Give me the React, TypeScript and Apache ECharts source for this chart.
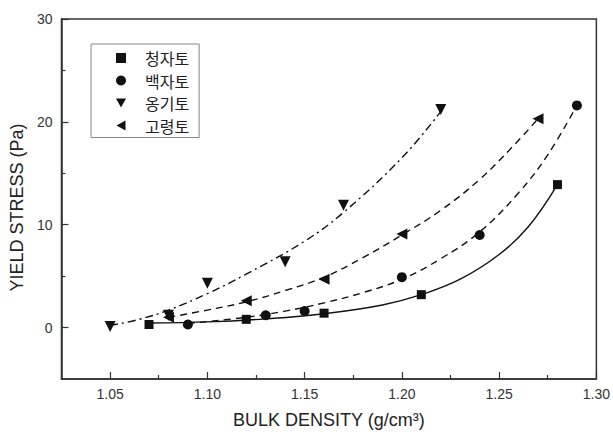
import React, { useEffect, useRef } from "react";
import * as echarts from "echarts";

// ---- data ----
const seriesNames = ["청자토", "백자토", "옹기토", "고령토"];

const celadonX = [1.07, 1.12, 1.16, 1.21, 1.28];
const celadonY = [0.3, 0.8, 1.4, 3.2, 13.9];

const whiteX = [1.09, 1.13, 1.15, 1.2, 1.24, 1.29];
const whiteY = [0.3, 1.2, 1.6, 4.9, 9.0, 21.6];

const onggiX = [1.05, 1.08, 1.1, 1.14, 1.17, 1.22];
const onggiY = [0.1, 1.2, 4.3, 6.4, 11.9, 21.2];

const kaolinX = [1.08, 1.12, 1.16, 1.2, 1.27];
const kaolinY = [1.0, 2.6, 4.7, 9.1, 20.3];

// fitted curves
const celadonFitX = [1.07, 1.1, 1.13, 1.16, 1.19, 1.21, 1.23, 1.25, 1.265, 1.28];
const celadonFitY = [0.45, 0.55, 0.85, 1.35, 2.2, 3.2, 4.7, 7.1, 9.8, 13.9];

const whiteFitX = [1.09, 1.12, 1.14, 1.16, 1.18, 1.2, 1.22, 1.24, 1.26, 1.275, 1.29];
const whiteFitY = [0.4, 1.0, 1.6, 2.4, 3.4, 4.7, 6.7, 9.3, 13.1, 16.8, 21.6];

const onggiFitX = [1.05, 1.065, 1.08, 1.1, 1.12, 1.15, 1.17, 1.2, 1.22];
const onggiFitY = [0.2, 0.8, 1.7, 3.3, 5.2, 8.4, 11.2, 16.5, 21.0];

const kaolinFitX = [1.08, 1.1, 1.12, 1.14, 1.16, 1.18, 1.2, 1.22, 1.24, 1.257, 1.27];
const kaolinFitY = [1.0, 1.7, 2.5, 3.6, 4.9, 6.8, 9.0, 11.4, 14.4, 17.6, 20.3];

const xMajorTicks = [1.05, 1.1, 1.15, 1.2, 1.25, 1.3];
const xMinorTicks = [1.075, 1.125, 1.175, 1.225, 1.275];
const yMajorTicks = [0, 10, 20, 30];
const yMinorTicks = [5, 15, 25];

const pairs = (xs: number[], ys: number[]) => xs.map((x, i) => [x, ys[i]]);

const INK = "#111";
const FONT = "'Liberation Sans', Arial, sans-serif";
const ICON_DOWN = "path://M0,0 L10,0 L5,9 Z";
const ICON_LEFT = "path://M10,0 L10,10 L1,5 Z";

export default function App() {
  const ref = useRef<HTMLDivElement>(null);

  useEffect(() => {
    document.body.style.margin = "0";
    const chart = echarts.init(ref.current!, null, { renderer: "svg" });

    const baseX = {
      type: "value" as const,
      min: 1.025,
      max: 1.3,
      position: "bottom" as const,
      splitLine: { show: false },
    };
    const baseY = {
      type: "value" as const,
      min: -5,
      max: 30,
      position: "left" as const,
      splitLine: { show: false },
    };

    const markerSeries = (name: string, xs: number[], ys: number[], symbol: string, size: number, rotate: number) => ({
      name,
      type: "scatter",
      data: pairs(xs, ys),
      symbol,
      symbolSize: size,
      symbolRotate: rotate,
      itemStyle: { color: INK, opacity: 1 },
      z: 5,
    });

    const fitSeries = (name: string, xs: number[], ys: number[], lineType: any) => ({
      name,
      type: "line",
      data: pairs(xs, ys),
      showSymbol: false,
      symbol: "none",
      smooth: 0.4,
      lineStyle: { color: INK, width: 1.4, type: lineType },
      z: 3,
    });

    chart.setOption({
      animation: false,
      backgroundColor: "#ffffff",
      grid: {
        left: 60,
        right: 15,
        top: 19,
        bottom: 55,
        show: true,
        borderColor: "#333",
        borderWidth: 1.5,
      },
      legend: {
        data: [
          { name: seriesNames[0], icon: "rect" },
          { name: seriesNames[1], icon: "circle" },
          { name: seriesNames[2], icon: ICON_DOWN },
          { name: seriesNames[3], icon: ICON_LEFT },
        ],
        orient: "vertical",
        left: 91,
        top: 44,
        itemWidth: 10,
        itemHeight: 10,
        itemGap: 4.5,
        padding: [5, 10, 3, 25],
        borderColor: "#888",
        borderWidth: 1,
        itemStyle: { color: INK },
        textStyle: {
          fontFamily: "'Noto Sans CJK KR', sans-serif",
          fontSize: 16,
          color: "#222",
          lineHeight: 18,
          padding: [0, 0, 0, 14],
        },
      },
      xAxis: [
        {
          ...baseX,
          name: "BULK DENSITY (g/cm³)",
          nameLocation: "middle",
          nameGap: 32,
          nameTextStyle: { fontFamily: FONT, fontSize: 18, color: "#222" },
          axisLine: { show: true, onZero: false, lineStyle: { color: "#333", width: 1.5 } },
          axisTick: {
            show: true,
            inside: true,
            length: 7,
            customValues: xMajorTicks,
            lineStyle: { color: "#333", width: 1.2 },
          },
          axisLabel: {
            customValues: xMajorTicks,
            formatter: (v: number) => v.toFixed(2),
            fontFamily: FONT,
            fontSize: 14,
            color: "#333",
            margin: 8,
          },
        },
        {
          ...baseX,
          axisLine: { show: false, onZero: false },
          axisTick: {
            show: true,
            inside: true,
            length: 4,
            customValues: xMinorTicks,
            lineStyle: { color: "#333", width: 1.2 },
          },
          axisLabel: { show: false },
        },
      ],
      yAxis: [
        {
          ...baseY,
          name: "YIELD STRESS (Pa)",
          nameLocation: "middle",
          nameGap: 33,
          nameTextStyle: { fontFamily: FONT, fontSize: 18, color: "#222", padding: [0, 17, 0, 0] },
          axisLine: { show: true, onZero: false, lineStyle: { color: "#333", width: 1.5 } },
          axisTick: {
            show: true,
            inside: true,
            length: 7,
            customValues: yMajorTicks,
            lineStyle: { color: "#333", width: 1.2 },
          },
          axisLabel: {
            customValues: yMajorTicks,
            fontFamily: FONT,
            fontSize: 14,
            color: "#333",
            margin: 9,
          },
        },
        {
          ...baseY,
          axisLine: { show: false, onZero: false },
          axisTick: {
            show: true,
            inside: true,
            length: 4,
            customValues: yMinorTicks,
            lineStyle: { color: "#333", width: 1.2 },
          },
          axisLabel: { show: false },
        },
      ],
      series: [
        fitSeries("청자토 fit", celadonFitX, celadonFitY, "solid"),
        fitSeries("백자토 fit", whiteFitX, whiteFitY, [7, 5]),
        fitSeries("옹기토 fit", onggiFitX, onggiFitY, [8, 4, 2, 4]),
        fitSeries("고령토 fit", kaolinFitX, kaolinFitY, [7, 5]),
        markerSeries(seriesNames[0], celadonX, celadonY, "rect", 9, 0),
        markerSeries(seriesNames[1], whiteX, whiteY, "circle", 10, 0),
        markerSeries(seriesNames[2], onggiX, onggiY, "triangle", 11, 180),
        markerSeries(seriesNames[3], kaolinX, kaolinY, "triangle", 11, 90),
      ],
    });

    return () => chart.dispose();
  }, []);

  return <div ref={ref} style={{ width: 613, height: 434 }} />;
}
